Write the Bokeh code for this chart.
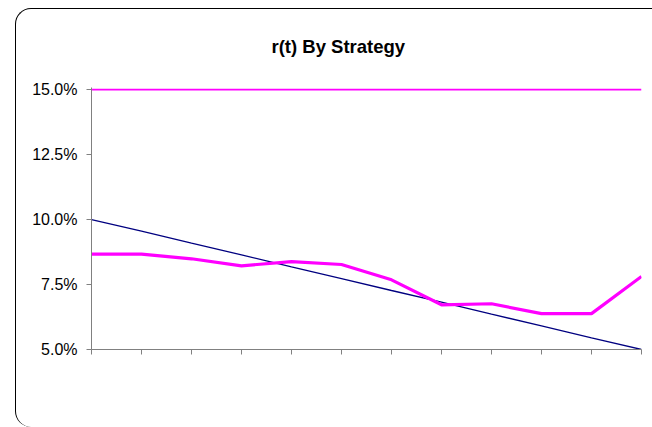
from bokeh.plotting import figure
from bokeh.models import (Range1d, FixedTicker, NumeralTickFormatter,
                          Legend, LegendItem, InlineStyleSheet)
from bokeh.embed import file_html
from bokeh.resources import INLINE

# Rate path r(t) for each strategy, in percent, one value per period
periods = list(range(12))
strategy_1 = [15.0, 15.0, 15.0, 15.0, 15.0, 15.0, 15.0, 15.0, 15.0, 15.0, 15.0, 15.0]
strategy_2 = [10.00, 9.55, 9.09, 8.64, 8.18, 7.73, 7.27, 6.82, 6.36, 5.91, 5.45, 5.00]
strategy_3 = [8.67, 8.67, 8.49, 8.22, 8.38, 8.27, 7.68, 6.72, 6.76, 6.38, 6.38, 7.81]
y_ticks = [5.0, 7.5, 10.0, 12.5, 15.0]
series_names = ["Strategy 1", "Strategy 2", "Strategy 3"]

FONT = "Liberation Sans"

p = figure(width=652, height=427, frame_width=550, frame_height=262,
           output_backend="svg", toolbar_location=None,
           x_range=Range1d(0, 11), y_range=Range1d(0.05, 0.1508),
           min_border_left=91, min_border_right=11,
           min_border_top=87, min_border_bottom=78,
           background_fill_color="white", border_fill_color="white")
p.outline_line_color = None
p.xgrid.visible = False
p.ygrid.visible = False

# chart area frame with a rounded corner, running off the right and bottom edges
p.stylesheets = [InlineStyleSheet(css="""
:host::after {
  content: ''; position: absolute; left: 15px; top: 8px;
  width: 637px; height: 419px; box-sizing: border-box;
  border-left: 1px solid #000; border-top: 1px solid #000;
  border-top-left-radius: 16px; border-bottom-left-radius: 16px;
  pointer-events: none;
}
""")]

# title
p.title.text = "r(t) By Strategy"
p.title.align = "left"
p.title.offset = 180
p.title.standoff = 62
p.title.text_font = FONT
p.title.text_font_style = "bold"
p.title.text_font_size = "18.5px"
p.title.text_color = "black"

def frac(vals):
    return [v / 100.0 for v in vals]

r1 = p.line(periods, frac(strategy_1), line_color="#FF00FF", line_width=1.6)
r2 = p.line(periods, frac(strategy_2), line_color="#000080", line_width=1.3)
r3 = p.line(periods, frac(strategy_3), line_color="#FF00FF", line_width=3.2)

# y axis: percentage ticks, outward tick marks
p.yaxis.ticker = FixedTicker(ticks=frac(y_ticks))
p.yaxis.formatter = NumeralTickFormatter(format="0.0%")
p.yaxis.major_label_text_font = FONT
p.yaxis.major_label_text_font_size = "16px"
p.yaxis.major_label_text_color = "black"
p.yaxis.major_label_standoff = 9
p.yaxis.minor_tick_line_color = None
p.yaxis.major_tick_in = 0
p.yaxis.major_tick_out = 5

# x axis: tick per period, no labels
p.xaxis.ticker = FixedTicker(ticks=periods)
p.xaxis.major_label_text_font_size = "0px"
p.xaxis.major_label_standoff = 0
p.xaxis.minor_tick_line_color = None
p.xaxis.major_tick_in = 0
p.xaxis.major_tick_out = 5

for ax in (p.xaxis, p.yaxis):
    ax.axis_line_color = "#808080"
    ax.axis_line_width = 1
    ax.major_tick_line_color = "#808080"

# horizontal legend under the x axis
legend = Legend(items=[LegendItem(label=series_names[0], renderers=[r1]),
                       LegendItem(label=series_names[1], renderers=[r2]),
                       LegendItem(label=series_names[2], renderers=[r3])],
                orientation="horizontal", location="top",
                padding=0, margin=30, spacing=114,
                glyph_width=37, glyph_height=20, label_standoff=2,
                label_text_font=FONT, label_text_font_size="14px",
                label_text_color="black",
                border_line_color=None, background_fill_alpha=0)
p.add_layout(legend, "below")

open("out.html", "w").write(file_html(p, INLINE))
